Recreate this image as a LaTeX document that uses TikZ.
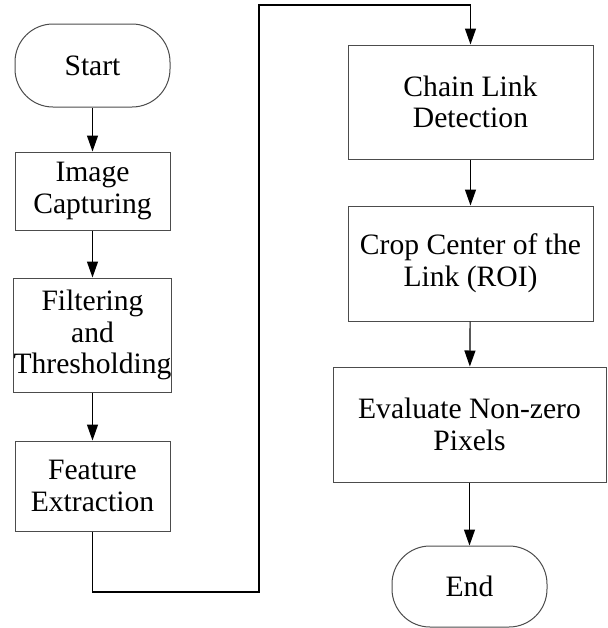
\documentclass[tikz,border=0pt]{standalone}
\usepackage{fontspec}
\setmainfont{Liberation Serif}
\usetikzlibrary{arrows.meta}

\begin{document}
\begin{tikzpicture}[x=0.5pt, y=-0.5pt,
    every node/.style={inner sep=0pt, align=center, font=\fontsize{14.8}{15.8}\selectfont},
    block/.style={draw=black!70, line width=0.5pt, rectangle, minimum width=77.5pt},
    terminal/.style={block, rounded corners=19pt},
    flow/.style={-{Triangle[length=8pt, width=5.5pt]}, line width=0.6pt}]
\useasboundingbox (0,0) rectangle (607,628);

% left column
\node [terminal, minimum height=41.5pt] (start) at (92.5,65.5) {Start};
\node [block, minimum height=39pt] (capture) at (92.5,191) {Image\\Capturing};
\node [block, minimum height=57pt] (filter) at (92.5,335) {Filtering\\and\\Thresholding};
\node [block, minimum height=45pt] (feature) at (92.5,486) {Feature\\Extraction};

% right column
\node [block, minimum width=122.5pt, minimum height=57pt] (chain) at (470.5,102) {Chain Link\\Detection};
\node [block, minimum width=122.5pt, minimum height=57.5pt] (crop) at (470.5,263.5) {Crop Center of the\\Link (ROI)};
\node [block, minimum width=136.5pt, minimum height=57.5pt] (evaluate) at (469.5,424.5) {Evaluate Non-zero\\Pixels};
\node [terminal, minimum height=40.5pt] (stop) at (469.5,586.5) {End};

\coordinate (lowturn) at (259,592);
\coordinate (highturn) at (259,5);

\draw [flow] (start) -- (capture);
\draw [flow] (capture) -- (filter);
\draw [flow] (filter) -- (feature);
\draw [flow] (feature.south) |- (lowturn) -- (highturn) -| (chain.north);
\draw [flow] (chain) -- (crop);
\draw [flow] (crop) -- (evaluate);
\draw [flow] (evaluate) -- (stop);

\end{tikzpicture}
\end{document}
